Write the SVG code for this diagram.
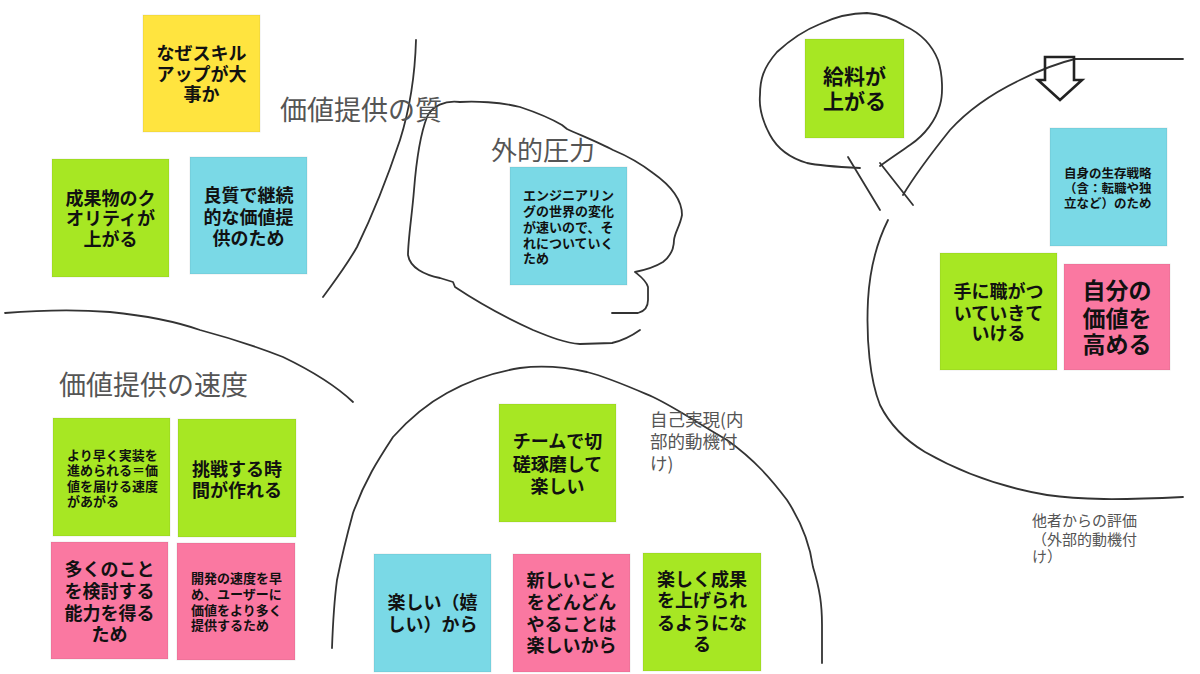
<svg xmlns="http://www.w3.org/2000/svg" width="1200" height="674" viewBox="0 0 1200 674">
<style>
.note{stroke:rgba(0,0,0,0.08);stroke-width:1}
.y{fill:#FFE43F}.g{fill:#A7E723}.c{fill:#7AD9E6}.p{fill:#FA78A1}
.t{font-family:"Noto Sans CJK JP","Noto Sans CJK SC",sans-serif;font-weight:bold;fill:#111;dominant-baseline:central}
.m{text-anchor:middle}
.s18{font-size:18px}.s13{font-size:13px}
.lbl{font-family:"Noto Sans CJK JP","Noto Sans CJK SC",sans-serif;fill:#555;font-weight:normal}
.ln{fill:none;stroke:#333;stroke-width:1.8;stroke-linecap:round;stroke-linejoin:round}
</style>
<rect width="1200" height="674" fill="#fff"/>
<g id="connectors">
<path class="ln" d="M416,40 C415,75 411,105 400,140 C390,170 375,210 357,247 C345,268 333,283 323,297"/>
<path class="ln" d="M640,330 C633,335 625,340 612,343 L580,344 C565,343 550,337 533,330 C500,315 470,297 455,287 L453,282 L440,278 C425,275 410,268 408,255 C408,240 412,215 414,190 C416,165 420,135 427,117 C432,106 445,100 460,102 C475,101 500,102 520,107 C535,112 550,118 562,125 L567,129 C580,135 600,143 613,150 C625,155 640,163 653,173 C670,185 682,200 682,215 C680,226 675,232 674,240 C674,248 672,255 663,262 C655,267 645,270 635,272 C640,276 646,280 648,287 L648,300 C648,305 646,311 638,313 L612,313"/>
<path class="ln" d="M5,313 C30,311 70,309 110,312 C150,316 180,323 200,330 C230,338 260,348 283,357 C310,370 335,385 353,402"/>
<path class="ln" d="M332,648 C333,620 335,595 337,580 C342,555 347,535 353,513 C365,480 378,460 393,437 C410,418 425,405 447,393 C470,380 495,372 520,368 C545,365 565,367 587,372 C610,378 632,388 653,397 C680,410 700,425 727,440 C755,460 772,480 787,500 C800,520 810,545 813,567 C820,590 822,605 822,625 L822,663"/>
<path class="ln" d="M860,168 C840,167 820,166 807,163 C790,158 777,148 770,135 C762,120 759,105 760,95 C760,80 763,68 777,52 C790,40 805,30 820,24 C835,17 850,13 867,13 C882,14 895,20 905,26 C920,33 932,45 938,60 C943,75 943,95 940,105 C936,120 925,135 910,145 C900,152 888,160 880,166"/>
<path class="ln" d="M848,157 L880,210"/>
<path class="ln" d="M880,163 L913,205"/>
<path class="ln" d="M888,220 C878,240 870,265 868,300 C866,340 870,380 880,405 C890,425 905,440 925,452 C960,472 1000,487 1047,495 C1080,500 1120,500 1183,497"/>
<path class="ln" d="M903,195 C915,175 930,155 950,130 C970,108 995,92 1020,80 C1040,70 1058,63 1075,59 L1183,59"/>
<polygon points="1045,57 1074,57 1074,80 1082,80 1060,100 1038,80 1045,80" fill="none" stroke="#222" stroke-width="2.6" stroke-linejoin="miter"/>
</g>
<g id="labels">
<text class="lbl" x="280" y="120" font-size="27">価値提供の質</text>
<text class="lbl" x="491" y="160" font-size="26">外的圧力</text>
<text class="lbl" x="59" y="395" font-size="27">価値提供の速度</text>
<text class="lbl" font-size="17.5" dominant-baseline="central"><tspan x="650" y="418">自己実現(内</tspan><tspan x="650" y="440">部的動機付</tspan><tspan x="650" y="462">け)</tspan></text>
<text class="lbl" font-size="15" dominant-baseline="central"><tspan x="1032" y="519">他者からの評価</tspan><tspan x="1032" y="538">（外部的動機付</tspan><tspan x="1032" y="555">け）</tspan></text>
</g>
<g id="n1"><rect class="note y" x="143" y="15" width="117" height="117"/><text class="t m s18"><tspan x="201.5" y="52">なぜスキル</tspan><tspan x="201.5" y="73">アップが大</tspan><tspan x="201.5" y="93">事か</tspan></text></g>
<g id="n2"><rect class="note g" x="52" y="159" width="117" height="118"/><text class="t m s18"><tspan x="110.5" y="197">成果物のク</tspan><tspan x="110.5" y="217">オリティが</tspan><tspan x="110.5" y="238">上がる</tspan></text></g>
<g id="n3"><rect class="note c" x="190" y="157" width="117" height="117"/><text class="t m s18"><tspan x="248.5" y="194">良質で継続</tspan><tspan x="248.5" y="216">的な価値提</tspan><tspan x="248.5" y="237">供のため</tspan></text></g>
<g id="n4"><rect class="note c" x="510" y="167" width="117" height="118"/><text class="t s13"><tspan x="523" y="194">エンジニアリン</tspan><tspan x="523" y="210">グの世界の変化</tspan><tspan x="523" y="226">が速いので、そ</tspan><tspan x="523" y="242">れについていく</tspan><tspan x="523" y="257">ため</tspan></text></g>
<g id="n5"><rect class="note g" x="805" y="39" width="99" height="99"/><text class="t m" font-size="21"><tspan x="854.5" y="75">給料が</tspan><tspan x="854.5" y="100">上がる</tspan></text></g>
<g id="n6"><rect class="note c" x="1050" y="128" width="117" height="118"/><text class="t" font-size="12.5"><tspan x="1064" y="172">自身の生存戦略</tspan><tspan x="1064" y="187">（含：転職や独</tspan><tspan x="1064" y="202">立など）のため</tspan></text></g>
<g id="n7"><rect class="note g" x="940" y="253" width="117" height="117"/><text class="t m s18"><tspan x="998.5" y="290">手に職がつ</tspan><tspan x="998.5" y="312">いていきて</tspan><tspan x="998.5" y="332">いける</tspan></text></g>
<g id="n8"><rect class="note p" x="1064" y="264" width="106" height="106"/><text class="t m" font-size="23"><tspan x="1117" y="289">自分の</tspan><tspan x="1117" y="317">価値を</tspan><tspan x="1117" y="343">高める</tspan></text></g>
<g id="n9"><rect class="note g" x="53" y="418" width="117" height="118"/><text class="t s13"><tspan x="67" y="454">より早く実装を</tspan><tspan x="67" y="469">進められる＝価</tspan><tspan x="67" y="485">値を届ける速度</tspan><tspan x="67" y="500">があがる</tspan></text></g>
<g id="n10"><rect class="note g" x="178" y="419" width="118" height="118"/><text class="t m s18"><tspan x="237" y="468">挑戦する時</tspan><tspan x="237" y="489">間が作れる</tspan></text></g>
<g id="n11"><rect class="note p" x="51" y="542" width="117" height="117"/><text class="t m s18"><tspan x="109.5" y="568">多くのこと</tspan><tspan x="109.5" y="590">を検討する</tspan><tspan x="109.5" y="612">能力を得る</tspan><tspan x="109.5" y="633">ため</tspan></text></g>
<g id="n12"><rect class="note p" x="177" y="543" width="118" height="117"/><text class="t s13"><tspan x="191" y="577">開発の速度を早</tspan><tspan x="191" y="593">め、ユーザーに</tspan><tspan x="191" y="609">価値をより多く</tspan><tspan x="191" y="624">提供するため</tspan></text></g>
<g id="n13"><rect class="note g" x="499" y="404" width="117" height="118"/><text class="t m s18"><tspan x="557.5" y="440">チームで切</tspan><tspan x="557.5" y="463">磋琢磨して</tspan><tspan x="557.5" y="485">楽しい</tspan></text></g>
<g id="n14"><rect class="note c" x="374" y="554" width="117" height="118"/><text class="t m s18"><tspan x="432.5" y="601">楽しい（嬉</tspan><tspan x="432.5" y="623">しい）から</tspan></text></g>
<g id="n15"><rect class="note p" x="513" y="554" width="117" height="118"/><text class="t m s18"><tspan x="571.5" y="579">新しいこと</tspan><tspan x="571.5" y="601">をどんどん</tspan><tspan x="571.5" y="623">やることは</tspan><tspan x="571.5" y="644">楽しいから</tspan></text></g>
<g id="n16"><rect class="note g" x="643" y="553" width="118" height="118"/><text class="t m s18"><tspan x="702" y="578">楽しく成果</tspan><tspan x="702" y="599">を上げられ</tspan><tspan x="702" y="622">るようにな</tspan><tspan x="702" y="643">る</tspan></text></g>
</svg>
